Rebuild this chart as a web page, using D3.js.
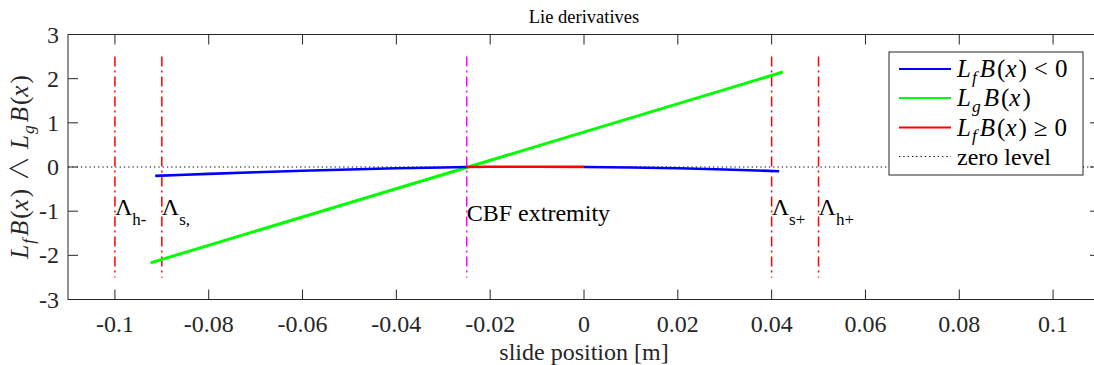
<!DOCTYPE html>
<html><head><meta charset="utf-8">
<script src="https://cdn.jsdelivr.net/npm/d3@7"></script>
<style>body{margin:0;background:#fff;overflow:hidden}</style>
</head><body><svg id="c" width="1094" height="365"></svg>
<script>
// ---- data ----
const xTicks = [-0.1,-0.08,-0.06,-0.04,-0.02,0,0.02,0.04,0.06,0.08,0.1];
const xTickLabels = ["-0.1","-0.08","-0.06","-0.04","-0.02","0","0.02","0.04","0.06","0.08","0.1"];
const yTicks = [-3,-2,-1,0,1,2,3];
const yTickLabels = ["-3","-2","-1","0","1","2","3"];

const lfNegLeftX = [-0.0914,-0.085,-0.08,-0.07,-0.06,-0.05,-0.04,-0.03,-0.025];
const lfNegLeftY = [-0.2,-0.175,-0.155,-0.12,-0.085,-0.055,-0.03,-0.01,0];
const lfPosX = [-0.025,-0.02,-0.01,0];
const lfPosY = [0,0.004,0.006,0.003];
const lfNegRightX = [0,0.01,0.02,0.03,0.0416];
const lfNegRightY = [0,-0.01,-0.03,-0.055,-0.095];
const lgX = [-0.0924,0.0424];
const lgY = [-2.17,2.15];

const boundaryX = [-0.1,-0.09,0.04,0.05];
const boundaryMain = ["Λ","Λ","Λ","Λ"];
const boundarySub = ["h-","s,","s+","h+"];
const extremityX = -0.025;
const extremityLabel = "CBF extremity";
const markerSpan = [-2.5,2.5];
const labelY = -1;

// ---- layout ----
const FONT = "'Liberation Serif','Times New Roman',serif";
const svg = d3.select("#c");
const L=68, R=1100, T=34.5, B=299.5;
const x = d3.scaleLinear().domain([-0.11,0.11]).range([L,R]);
const y = d3.scaleLinear().domain([-3,3]).range([B,T]);
const axisCol = "#262626";

svg.append("defs").append("clipPath").attr("id","clip")
  .append("rect").attr("x",L).attr("y",T).attr("width",R-L).attr("height",B-T);

const plot = svg.append("g").attr("clip-path","url(#clip)");

// zero level
plot.append("line").attr("x1",L).attr("x2",R).attr("y1",y(0)).attr("y2",y(0))
  .attr("stroke","#000").attr("stroke-width",1).attr("stroke-dasharray","1.3,3");

// vertical markers
const dashDot = "10,4,2,4";
boundaryX.forEach(v=>{
  plot.append("line").attr("x1",x(v)).attr("x2",x(v)).attr("y1",y(markerSpan[1])).attr("y2",y(markerSpan[0]))
    .attr("stroke","#ff0000").attr("stroke-width",1.5).attr("stroke-dasharray",dashDot);
});
plot.append("line").attr("x1",x(extremityX)).attr("x2",x(extremityX)).attr("y1",y(markerSpan[1])).attr("y2",y(markerSpan[0]))
  .attr("stroke","#ff00ff").attr("stroke-width",1.5).attr("stroke-dasharray",dashDot);

const line = d3.line().x(d=>x(d[0])).y(d=>y(d[1]));
const zip = (a,b)=>a.map((v,i)=>[v,b[i]]);
plot.append("path").attr("d",line(zip(lgX,lgY))).attr("fill","none").attr("stroke","#00ff00").attr("stroke-width",3);
plot.append("path").attr("d",line(zip(lfNegLeftX,lfNegLeftY))).attr("fill","none").attr("stroke","#0000ff").attr("stroke-width",2.6);
plot.append("path").attr("d",line(zip(lfNegRightX,lfNegRightY))).attr("fill","none").attr("stroke","#0000ff").attr("stroke-width",2.6);
plot.append("path").attr("d",line(zip(lfPosX,lfPosY))).attr("fill","none").attr("stroke","#ff0000").attr("stroke-width",2.6);

const txt = (sel)=>sel.append("text").attr("font-family",FONT);

// text labels
boundaryX.forEach((v,i)=>{
  const t = txt(svg).attr("x",x(v)).attr("y",y(labelY)+4).attr("font-size",24).attr("fill","#000");
  t.append("tspan").text(boundaryMain[i]);
  t.append("tspan").attr("dy",10).attr("font-size",17).text(boundarySub[i]);
});
txt(svg).attr("x",x(extremityX)).attr("y",y(labelY)+10).attr("font-size",24).attr("fill","#000").text(extremityLabel);

// axes box
svg.append("rect").attr("x",L).attr("y",T).attr("width",R-L).attr("height",B-T)
  .attr("fill","none").attr("stroke",axisCol).attr("stroke-width",1);
const tl = 10;
xTicks.forEach((v,i)=>{
  svg.append("line").attr("x1",x(v)).attr("x2",x(v)).attr("y1",B).attr("y2",B-tl).attr("stroke",axisCol);
  svg.append("line").attr("x1",x(v)).attr("x2",x(v)).attr("y1",T).attr("y2",T+tl).attr("stroke",axisCol);
  txt(svg).attr("x",x(v)).attr("y",B+32).attr("text-anchor","middle").attr("font-size",24).attr("fill",axisCol).text(xTickLabels[i]);
});
yTicks.forEach((v,i)=>{
  svg.append("line").attr("x1",L).attr("x2",L+tl).attr("y1",y(v)).attr("y2",y(v)).attr("stroke",axisCol);
  svg.append("line").attr("x1",R).attr("x2",R-tl).attr("y1",y(v)).attr("y2",y(v)).attr("stroke",axisCol);
  txt(svg).attr("x",L-9).attr("y",y(v)+8).attr("text-anchor","end").attr("font-size",24).attr("fill",axisCol).text(yTickLabels[i]);
});

// title & labels
txt(svg).attr("x",584).attr("y",23).attr("text-anchor","middle").attr("font-size",18.5).attr("fill","#000").text("Lie derivatives");
txt(svg).attr("x",584).attr("y",360).attr("text-anchor","middle").attr("font-size",24).attr("fill",axisCol).text("slide position [m]");

function mathText(sel, parts, size){
  parts.forEach(p=>{
    const ts = sel.append("tspan").text(p[0]);
    if(p[1].includes("i")) ts.attr("font-style","italic");
    if(p[1].includes("s")) { ts.attr("font-size",size*0.7).attr("dy",size*0.22).attr("dx",1); }
    if(p[1].includes("u")) { ts.attr("dy",-size*0.22).attr("dx",3); }
    if(p[1].includes("p")) { ts.attr("dx",2); }
    if(p[1].includes("r")) { ts.attr("dx",7); }
    if(p[1].includes("w")) { ts.attr("font-family","'Noto Sans CJK JP','DejaVu Serif',serif").attr("font-weight",300).attr("dx",8); }
  });
}
const lfParts = [["L","i"],["f","si"],["B","iu"],["(","p"],["x","i"],[")","p"]];
const lgParts = [["L","i"],["g","si"],["B","iu"],["(","p"],["x","i"],[")","p"]];

const yl = txt(svg).attr("transform","translate(28,167) rotate(-90)").attr("text-anchor","middle").attr("font-size",25).attr("fill",axisCol);
mathText(yl, lfParts.concat([["\u2227","w"],["L","ir"]]).concat(lgParts.slice(1)), 25);

// legend
const lg = svg.append("g");
lg.append("rect").attr("x",889).attr("y",52).attr("width",194).attr("height",123).attr("fill","#fff").attr("stroke",axisCol).attr("stroke-width",1);
const legendColors = ["#0000ff","#00ff00","#ff0000","#000"];
const legendParts = [lfParts.concat([["<","r"],["0","r"]]), lgParts, lfParts.concat([["\u2265","r"],["0","r"]]), [["zero level",""]]];
const legendY = [69,98,127.5,156.5];
legendColors.forEach((c,i)=>{
  const ln = lg.append("line").attr("x1",899).attr("x2",951).attr("y1",legendY[i]).attr("y2",legendY[i]).attr("stroke",c);
  if(i===3) ln.attr("stroke-width",1).attr("stroke-dasharray","1.3,3"); else ln.attr("stroke-width",2);
  const sz = i===3 ? 24 : 25;
  const t = txt(lg).attr("x",957).attr("y",legendY[i]+8).attr("font-size",sz).attr("fill","#000");
  mathText(t, legendParts[i], sz);
});
</script></body></html>
